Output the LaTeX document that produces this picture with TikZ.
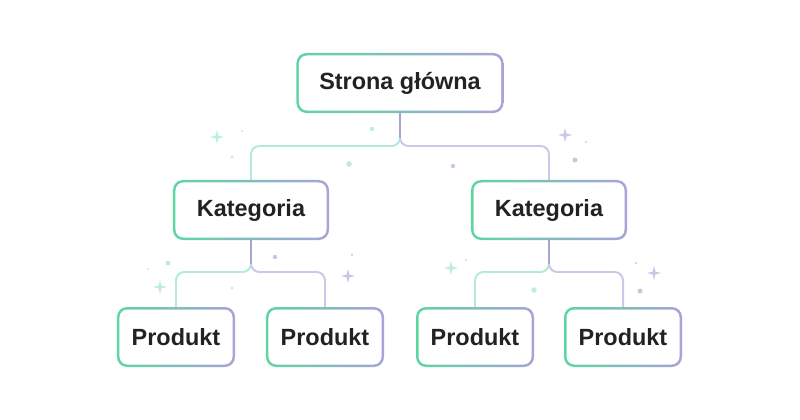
\documentclass[tikz,border=0pt]{standalone}
\usepackage{fontspec}
\setmainfont{Liberation Sans}
\usepackage{tikz}
\usetikzlibrary{positioning, calc}
\definecolor{boxG}{HTML}{5ED6A2}
\definecolor{boxP}{HTML}{A9A3D9}
\definecolor{lineG}{HTML}{B4EBD5}
\definecolor{lineP}{HTML}{CCC8EA}
\definecolor{stemC}{HTML}{A3A6CF}
\definecolor{ink}{HTML}{222222}
\definecolor{sparkG}{HTML}{BDEEDB}
\definecolor{sparkP}{HTML}{CBC6E8}
\tikzset{
  box/.style={rectangle, rounded corners=0.3cm, left color=boxG, right color=boxP,
    minimum height=1.8cm, font=\fontsize{20}{24}\selectfont\bfseries, text=ink,
    path picture={\fill[white, rounded corners=0.24cm]
      ([shift={(0.075cm,0.075cm)}]path picture bounding box.south west) rectangle
      ([shift={(-0.075cm,-0.075cm)}]path picture bounding box.north east);}},
  link/.style={line width=1.7pt, rounded corners=0.25cm},
  sparkle/.pic={\fill (0,-7) -- (1.4,-1.4) -- (7,0) -- (1.4,1.4) -- (0,7)
    -- (-1.4,1.4) -- (-7,0) -- (-1.4,-1.4) -- cycle;},
}
\begin{document}
\begin{tikzpicture}[x=0.03cm, y=-0.03cm]
  % tlo
  \fill[white] (0,0) rectangle (800,420);
  \useasboundingbox (0,0) rectangle (800,420);

  % 1. Wezly drzewa
  \node (root) [box, minimum width=6.21cm] at (400,83) {Strona główna};
  \node (kat1) [box, minimum width=4.68cm] at (251,210) {Kategoria};
  \node (kat2) [box, minimum width=4.68cm] at (549,210) {Kategoria};
  \node (prod1) [box, minimum width=3.54cm] at (176,337) {Produkt};
  \node (prod2) [box, minimum width=3.54cm] at (325,337) {Produkt};
  \node (prod3) [box, minimum width=3.54cm] at (475,337) {Produkt};
  \node (prod4) [box, minimum width=3.54cm] at (623,337) {Produkt};

  % punkty rozgalezien
  \coordinate (j0) at (400,146);
  \coordinate (j1) at (251,272);
  \coordinate (j2) at (549,272);

  % 2. Polaczenia
  \draw[link, lineG] (root.south) -- (j0) -| (kat1.north);
  \draw[link, lineP] (root.south) -- (j0) -| (kat2.north);
  \draw[link, lineG] (kat1.south) -- (j1) -| (prod1.north);
  \draw[link, lineP] (kat1.south) -- (j1) -| (prod2.north);
  \draw[link, lineG] (kat2.south) -- (j2) -| (prod3.north);
  \draw[link, lineP] (kat2.south) -- (j2) -| (prod4.north);
  \draw[line width=1.7pt, stemC] (root.south) -- ($(j0)+(0,-8)$);
  \draw[line width=1.7pt, stemC] (kat1.south) -- ($(j1)+(0,-8)$);
  \draw[line width=1.7pt, stemC] (kat2.south) -- ($(j2)+(0,-8)$);

  % 3. Gwiazdki i kropki (dekoracja)
  \pic[sparkG] at (217,137) {sparkle};
  \pic[sparkG] at (160,287) {sparkle};
  \pic[sparkG] at (451,268) {sparkle};
  \pic[sparkP] at (565,135) {sparkle};
  \pic[sparkP] at (348,276) {sparkle};
  \pic[sparkP] at (654,273) {sparkle};

  \fill[sparkG] (242,131) circle (1.2);
  \fill[sparkG] (232,157) circle (1.5);
  \fill[sparkG] (372,129) circle (2.2);
  \fill[sparkG] (349,164) circle (2.8);
  \fill[sparkP] (453,166) circle (2.2);
  \fill[sparkP] (586,142) circle (1.2);
  \fill[sparkP] (575,160) circle (2.5);
  \fill[sparkG] (148,269) circle (1.2);
  \fill[sparkG] (168,263) circle (2.5);
  \fill[sparkG] (232,288) circle (1.5);
  \fill[sparkP] (275,257) circle (2.2);
  \fill[sparkP] (352,255) circle (1.2);
  \fill[sparkG] (466,260) circle (1.2);
  \fill[sparkG] (534,290) circle (2.8);
  \fill[sparkP] (636,263) circle (1.2);
  \fill[sparkP] (640,291) circle (2.5);
\end{tikzpicture}
\end{document}
